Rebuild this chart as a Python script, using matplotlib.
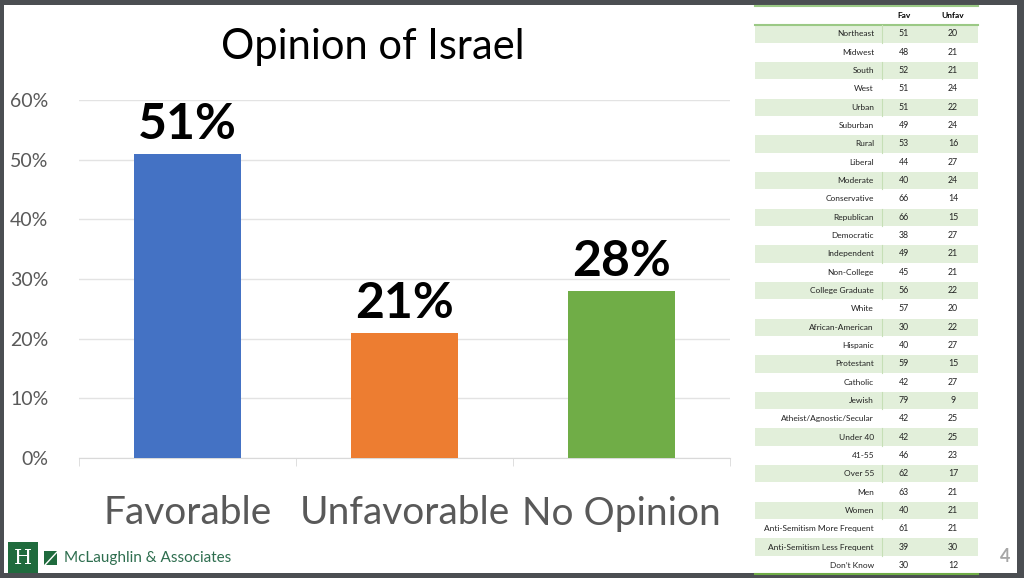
import matplotlib
matplotlib.use("Agg")
import matplotlib.pyplot as plt
import matplotlib.ticker as mticker
from matplotlib.patches import Rectangle, Polygon

plt.rcParams["font.family"] = ["Lato", "DejaVu Sans"]

# ─── Data ─────────────────────────────────────────────────────────────────
categories = ["Favorable", "Unfavorable", "No Opinion"]
values     = [0.51, 0.21, 0.28]
colors     = ["#4472C4", "#ED7D31", "#70AD47"]

groups = ["Northeast", "Midwest", "South", "West", "Urban", "Suburban", "Rural",
          "Liberal", "Moderate", "Conservative", "Republican", "Democratic",
          "Independent", "Non-College", "College Graduate", "White",
          "African-American", "Hispanic", "Protestant", "Catholic", "Jewish",
          "Atheist/Agnostic/Secular", "Under 40", "41-55", "Over 55", "Men",
          "Women", "Anti-Semitism More Frequent", "Anti-Semitism Less Frequent",
          "Don\u2019t Know"]
fav   = [51, 48, 52, 51, 51, 49, 53, 44, 40, 66, 66, 38, 49, 45, 56, 57, 30,
         40, 59, 42, 79, 42, 42, 46, 62, 63, 40, 61, 39, 30]
unfav = [20, 21, 21, 24, 22, 24, 16, 27, 24, 14, 15, 27, 21, 21, 22, 20, 22,
         27, 15, 27, 9, 25, 25, 23, 17, 21, 21, 21, 30, 12]

W, H = 1024, 578
fig = plt.figure(figsize=(W / 100, H / 100), dpi=100, facecolor="#4b4e52")

# ─── Slide background, drawn in pixel coordinates ────────────────────────
bg = fig.add_axes([0, 0, 1, 1])
bg.set_xlim(0, W)
bg.set_ylim(H, 0)
bg.axis("off")
bg.add_patch(Rectangle((4, 5), 1013, 568, facecolor="white", edgecolor="none"))

# table
row0, row_h = 33.9, 18.33
tx0, tx1, div_x = 755, 978, 881.5
green_line = "#9bc985"
bg.plot([tx0, tx1], [6, 6], color=green_line, lw=1.5)
bg.text(904, 16, "Fav", ha="center", va="center", fontsize=6, fontweight="bold")
bg.text(953, 16, "Unfav", ha="center", va="center", fontsize=6, fontweight="bold")
bg.plot([tx0, tx1], [24.5, 24.5], color=green_line, lw=1.5)
for i, (g, f, u) in enumerate(zip(groups, fav, unfav)):
    yc = row0 + i * row_h
    if i % 2 == 0:
        bg.add_patch(Rectangle((tx0, yc - row_h / 2 + 0.5), tx1 - tx0, row_h - 1,
                               facecolor="#e2efda", edgecolor="none"))
        bg.plot([div_x, div_x], [yc - row_h / 2 + 0.5, yc + row_h / 2 - 0.5],
                color="#c6dfb6", lw=0.8)
    bg.text(874, yc, g, ha="right", va="center", fontsize=6.0, color="#222222")
    bg.text(904, yc, str(f), ha="center", va="center", fontsize=6.3, color="#222222")
    bg.text(953, yc, str(u), ha="center", va="center", fontsize=6.3, color="#222222")
bg.plot([tx0, tx1], [574, 574], color="#70AD47", lw=1.5)

# page number
bg.text(1005, 557, "4", ha="center", va="center", fontsize=13,
        fontweight="bold", color="#a6a6a6")

# logo
logo_green = "#1f6b3d"
bg.add_patch(Rectangle((8, 542), 30, 31, facecolor=logo_green, edgecolor="none"))
bg.text(23, 558, "H", ha="center", va="center", fontsize=15, color="white",
        family="DejaVu Serif")
bg.add_patch(Polygon([(44, 551), (57, 551), (44, 565)], facecolor=logo_green,
                     edgecolor="none"))
bg.add_patch(Polygon([(57, 552.5), (57, 565), (45.5, 565)], facecolor=logo_green,
                     edgecolor="none"))
bg.text(64, 558, "McLaughlin & Associates", ha="left", va="center",
        fontsize=11, color="#2e6e4f")

# ─── Chart ────────────────────────────────────────────────────────────────
left, right, top, bottom = 79, 730, 100, 458
ax = fig.add_axes([left / W, (H - bottom) / H, (right - left) / W, (bottom - top) / H])
ax.set_facecolor("none")

x = range(len(categories))
bars = ax.bar(x, values, width=0.495, color=colors, zorder=3)
for xi, v in zip(x, values):
    ax.text(xi, v + 0.012, f"{v * 100:.0f}%", ha="center", va="bottom",
            fontsize=36, fontweight="bold", color="black", clip_on=False)

ax.set_xlim(-0.5, 2.5)
ax.set_ylim(0, 0.6)
ax.yaxis.set_major_locator(mticker.MultipleLocator(0.1))
ax.yaxis.set_major_formatter(mticker.PercentFormatter(xmax=1, decimals=0))
ax.grid(axis="y", color="#e3e3e3", lw=1, zorder=0)
for s in ["top", "right", "left"]:
    ax.spines[s].set_visible(False)
ax.spines["bottom"].set_color("#d9d9d9")
ax.tick_params(axis="y", length=0, pad=22, labelsize=14, labelcolor="#595959")

ax.set_xticks(list(x))
ax.set_xticklabels(categories)
ax.tick_params(axis="x", which="major", length=0, pad=27, labelsize=28,
               labelcolor="#595959")
ax.set_xticks([-0.5, 0.5, 1.5, 2.5], minor=True)
ax.tick_params(axis="x", which="minor", length=6, color="#d9d9d9")

fig.text(373 / W, 1 - 47 / H, "Opinion of Israel", ha="center", va="center",
         fontsize=30, color="black")

fig.savefig("out.png", dpi=100, facecolor=fig.get_facecolor())
